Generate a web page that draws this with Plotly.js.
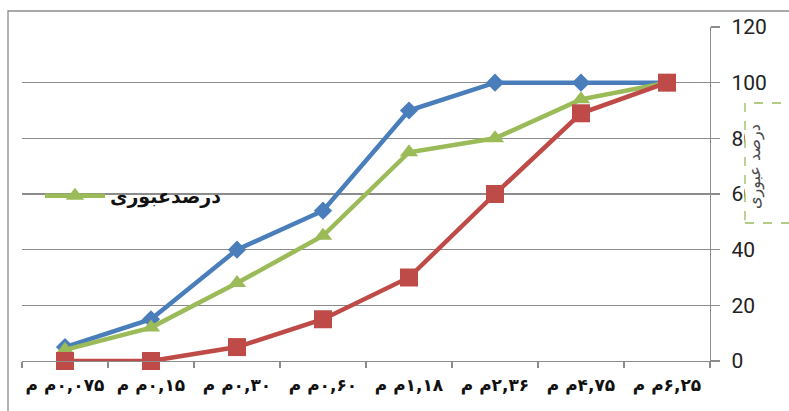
<!DOCTYPE html>
<html>
<head>
<meta charset="utf-8">
<script src="https://cdn.plot.ly/plotly-3.0.1.min.js"></script>
<style>
  html, body { margin: 0; padding: 0; background: #ffffff; }
  #chart { width: 789px; height: 411px; }
</style>
</head>
<body>
<div id="chart"></div>
<script>
// Sieve sizes in mm; LRO keeps the unit to the left of the number
const LRO = "\u202D", PDF = "\u202C";
const sieveSizes = ["۰,۰۷۵", "۰,۱۵", "۰,۳۰", "۰,۶۰", "۱,۱۸", "۲,۳۶", "۴,۷۵", "۶,۲۵"];
const unitText = "م م";
const sieveLabels = sieveSizes.map(s => LRO + unitText + s + PDF);

// Passing percentages
const upperLimit = [5, 15, 40, 54, 90, 100, 100, 100];
const passingPct = [4, 12, 28, 45, 75, 80, 94, 100];
const lowerLimit = [0, 0, 5, 15, 30, 60, 89, 100];

const legendName = "درصدعبوری";
const yTitle = "درصد عبوری";

const yTicks = [0, 20, 40, 60, 80, 100, 120];

const W = 789, H = 411;
const M = { l: 22, r: 79, t: 27, b: 50 };
const PW = W - M.l - M.r, PH = H - M.t - M.b;
// pixel -> paper helpers for frame decorations
const px = x => (x - M.l) / PW;
const py = y => (H - M.b - y) / PH;

const blue = "#4A7EBB", green = "#9BBB59", red = "#BE4B48";

const traces = [
  {
    x: sieveLabels, y: upperLimit, type: "scatter", mode: "lines+markers",
    line: { color: blue, width: 4.5 },
    marker: { symbol: "diamond", size: 14, color: blue },
    showlegend: false, cliponaxis: false
  },
  {
    x: sieveLabels, y: passingPct, type: "scatter", mode: "lines+markers",
    name: legendName,
    line: { color: green, width: 4.5 },
    marker: { symbol: "triangle-up", size: 16, color: green },
    showlegend: true, cliponaxis: false
  },
  {
    x: sieveLabels, y: lowerLimit, type: "scatter", mode: "lines+markers",
    line: { color: red, width: 4.5 },
    marker: { symbol: "square", size: 18, color: red },
    showlegend: false, cliponaxis: false
  }
];

const layout = {
  width: W, height: H,
  margin: M,
  paper_bgcolor: "#ffffff",
  plot_bgcolor: "#ffffff",
  showlegend: true,
  xaxis: {
    type: "category",
    categoryorder: "array",
    categoryarray: sieveLabels,
    range: [-0.5, sieveLabels.length - 0.5],
    showgrid: false,
    showline: true, linecolor: "#8c8c8c", linewidth: 1.3,
    ticks: "outside", tickson: "boundaries", ticklen: 6, tickcolor: "#8c8c8c", tickwidth: 1.3,
    tickangle: 0,
    ticklabelstandoff: 8,
    tickfont: { family: "DejaVu Sans", size: 17, color: "#111111", weight: "bold" },
    zeroline: false
  },
  yaxis: {
    side: "right",
    range: [0, 120],
    tickvals: yTicks,
    showgrid: true, gridcolor: "#8c8c8c", gridwidth: 1.3,
    showline: true, linecolor: "#8c8c8c", linewidth: 1.3,
    ticks: "outside", ticklen: 9, tickcolor: "#8c8c8c", tickwidth: 1.3,
    ticklabelstandoff: 7,
    tickfont: { family: "Roboto", size: 21, color: "#222222" },
    zeroline: false
  },
  legend: {
    x: px(40), y: py(196), xanchor: "left", yanchor: "middle",
    bgcolor: "rgba(0,0,0,0)",
    itemwidth: 60,
    font: { family: "DejaVu Sans", size: 19, color: "#111111", weight: "bold" }
  },
  shapes: [
    // chart frame
    {
      type: "rect", xref: "paper", yref: "paper",
      x0: px(8), x1: px(820), y0: py(440), y1: py(11),
      line: { color: "#8c8c8c", width: 1.3 }, fillcolor: "rgba(0,0,0,0)", layer: "below"
    },
    // axis title box outline
    {
      type: "rect", xref: "paper", yref: "paper",
      x0: px(745), x1: px(820), y0: py(223), y1: py(103),
      line: { color: green, width: 1.3, dash: "dash" }, fillcolor: "#ffffff", layer: "above"
    }
  ],
  annotations: [
    // white fill inside the title box, laid over the tick labels
    {
      xref: "paper", yref: "paper", x: px(746), y: py(104),
      xanchor: "left", yanchor: "top",
      text: " ", showarrow: false, width: 60, height: 118,
      bgcolor: "#ffffff", borderwidth: 0, borderpad: 0
    },
    {
      xref: "paper", yref: "paper", x: px(767), y: py(167),
      text: yTitle, showarrow: false, textangle: -90,
      font: { family: "DejaVu Sans", size: 16, color: "#4a4a4a" }
    }
  ]
};

Plotly.newPlot("chart", traces, layout, { displayModeBar: false, staticPlot: true });
</script>
</body>
</html>
